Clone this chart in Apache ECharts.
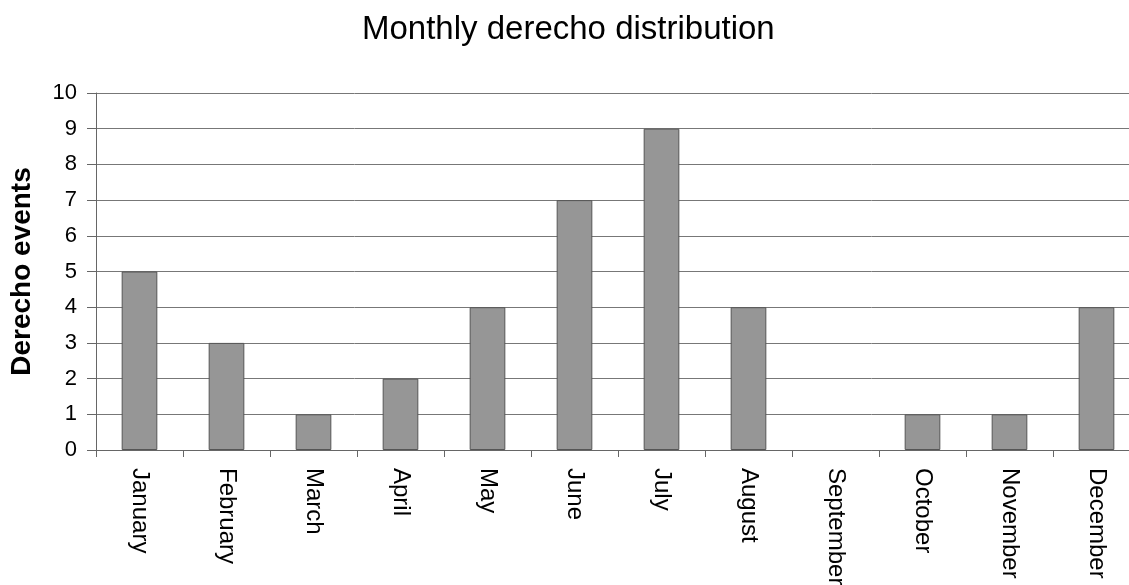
<!DOCTYPE html>
<html>
<head>
<meta charset="utf-8">
<script src="https://cdn.jsdelivr.net/npm/echarts@6/dist/echarts.min.js"></script>
<style>
html,body{margin:0;padding:0;background:#fff;}
#c{width:1129px;height:585px;}
</style>
</head>
<body>
<div id="c"></div>
<script>
const months = ['January','February','March','April','May','June','July','August','September','October','November','December'];
const events = [5, 3, 1, 2, 4, 7, 9, 4, 0, 1, 1, 4];
const titleText = 'Monthly derecho distribution';
const yName = 'Derecho events';

const chart = echarts.init(document.getElementById('c'));
const font = '"Liberation Sans", Arial, sans-serif';
chart.setOption({
  animation: false,
  backgroundColor: '#ffffff',
  title: {
    text: titleText,
    left: 357,
    top: 8,
    textStyle: {fontFamily: font, fontSize: 33, fontWeight: 'normal', color: '#000'}
  },
  grid: {left: 96, top: 93, right: -11, bottom: 135, containLabel: false, outerBoundsMode: 'none'},
  xAxis: {
    type: 'category',
    data: months,
    axisLine: {lineStyle: {color: '#666', width: 1}},
    axisTick: {show: true, length: 7, lineStyle: {color: '#666'}},
    axisLabel: {rotate: -90, margin: 18, fontFamily: font, fontSize: 24, color: '#000', interval: 0}
  },
  yAxis: {
    type: 'value',
    min: 0, max: 10, interval: 1,
    name: yName,
    nameLocation: 'middle',
    nameGap: 60,
    nameTextStyle: {fontFamily: font, fontSize: 28, fontWeight: 'bold', color: '#000'},
    axisLine: {show: true, lineStyle: {color: '#666'}},
    axisTick: {show: true, inside: false, length: 9, lineStyle: {color: '#666'}},
    axisLabel: {margin: 19, fontFamily: font, fontSize: 22, color: '#000'},
    splitLine: {show: true, lineStyle: {color: '#777', width: 1}}
  },
  series: [{
    type: 'bar',
    data: events.map(v => v === 0 ? {value: v, itemStyle: {borderWidth: 0}} : v),
    barWidth: '41%',
    itemStyle: {color: '#969696', borderColor: '#555', borderWidth: 1}
  }]
});
</script>
</body>
</html>
